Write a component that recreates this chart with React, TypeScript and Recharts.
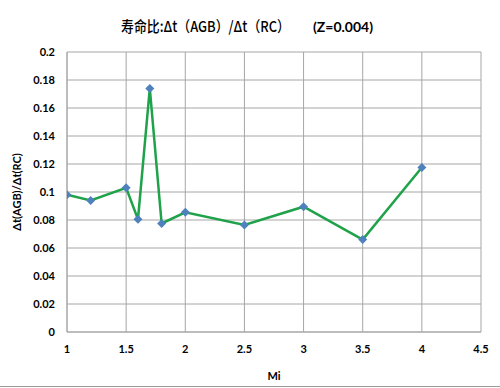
import React from "react";
import { LineChart, Line, XAxis, YAxis, CartesianGrid } from "recharts";

const miValues = [1, 1.2, 1.5, 1.6, 1.7, 1.8, 2, 2.5, 3, 3.5, 4];
const ratioValues = [0.098, 0.094, 0.103, 0.0805, 0.174, 0.0775, 0.0855, 0.0765, 0.0895, 0.066, 0.1175];
const xTicks = [1, 1.5, 2, 2.5, 3, 3.5, 4, 4.5];
const yTicks = [0, 0.02, 0.04, 0.06, 0.08, 0.1, 0.12, 0.14, 0.16, 0.18, 0.2];
const titleMain = "寿命比:Δt（AGB）/Δt（RC）";
const titleSub = "(Z=0.004)";

const data = miValues.map((m, i) => ({ mi: m, r: ratioValues[i] }));

const tickFont = { fontFamily: "Lato, 'Liberation Sans', sans-serif", fontSize: 11, fontWeight: 700, fill: "#000" };

const Diamond = (props: any) => {
  const { cx, cy } = props;
  if (cx == null || cy == null) return null;
  const s = 4.5;
  return (
    <polygon
      key={`d-${cx}-${cy}`}
      points={`${cx},${cy - s} ${cx + s},${cy} ${cx},${cy + s} ${cx - s},${cy}`}
      fill="#4f81bd"
    />
  );
};

export default function App() {
  return (
    <div style={{ position: "absolute", left: 0, top: 0, width: 500, height: 388, background: "#fff", overflow: "hidden" }}>
      <LineChart width={500} height={388} data={data} margin={{ top: 52, right: 19, left: 17, bottom: 26 }}>
        <CartesianGrid stroke="#a6a6a6" strokeWidth={1} />
        <XAxis
          dataKey="mi"
          type="number"
          domain={[1, 4.5]}
          ticks={xTicks}
          tick={tickFont}
          tickLine={false}
          axisLine={{ stroke: "#a6a6a6" }}
          tickSize={6}
          tickMargin={7}
          height={30}
          label={{ value: "Mi", position: "insideBottom", offset: -18, style: { ...tickFont, fontSize: 11 } }}
          allowDataOverflow
        />
        <YAxis
          type="number"
          domain={[0, 0.2]}
          ticks={yTicks}
          tick={tickFont}
          tickLine={false}
          axisLine={{ stroke: "#a6a6a6" }}
          tickSize={6}
          tickMargin={6}
          width={50}
          label={{
            value: "Δt(AGB)/Δt(RC)",
            angle: -90,
            position: "insideLeft",
            offset: 0,
            dx: 0,
            style: { ...tickFont, fontSize: 11, textAnchor: "middle" },
          }}
        />
        <Line
          dataKey="r"
          stroke="#1fa24a"
          strokeWidth={2.5}
          dot={<Diamond />}
          activeDot={false}
          isAnimationActive={false}
        />
      </LineChart>
      <svg width={500} height={388} style={{ position: "absolute", left: 0, top: 0, pointerEvents: "none" }}>
        <text
          x={121}
          y={32}
          textLength={169}
          lengthAdjust="spacingAndGlyphs"
          style={{ fontFamily: "'Noto Sans CJK SC', 'Noto Sans', sans-serif", fontSize: 15, fontWeight: 500 }}
          fill="#000"
        >
          {titleMain}
        </text>
        <text
          x={313}
          y={32}
          textLength={60}
          lengthAdjust="spacingAndGlyphs"
          style={{ fontFamily: "Lato, 'Liberation Sans', sans-serif", fontSize: 14, fontWeight: 700 }}
          fill="#000"
        >
          {titleSub}
        </text>
        <line x1={0} y1={386.5} x2={500} y2={386.5} stroke="#9a9a9a" strokeWidth={1} />
      </svg>
    </div>
  );
}
